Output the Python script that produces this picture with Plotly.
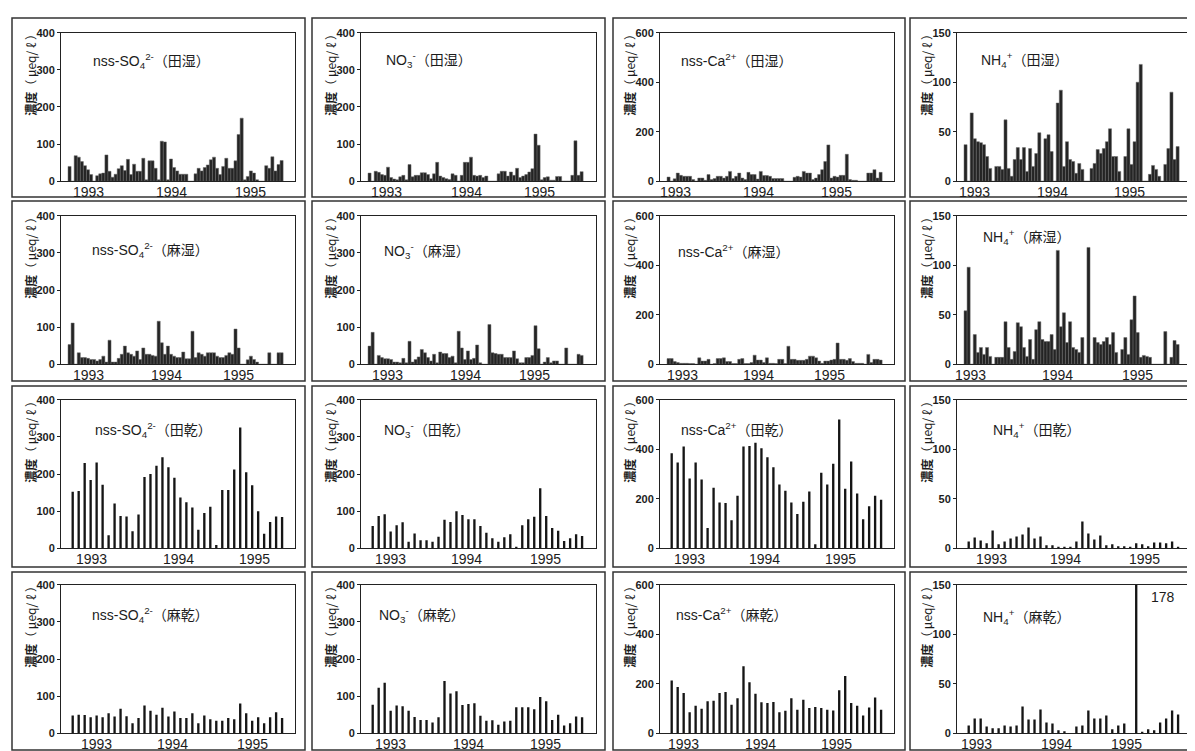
import plotly.graph_objects as go

W, H = 1195, 751

# ---------------- data ----------------
YEAR_LABELS = ["1993", "1994", "1995"]
WET_START = 1992.77      # left edge of first wet-deposition bin (decimal year)
WET_STEP = 0.0394        # ~2-week bins
DRY_START = 1992.83      # centre of first dry-deposition sample
DRY_STEP = 0.0767        # 4-weekly samples

# wet deposition, 田 site
so4_ta_wet = [40,0,69,65,53,42,31,18,0,15, 20,22,71,27,11,19,34,42,29,59,
              18,46,27,27,62,4,55,55,35,4, 108,106,4,60,37,28,19,19,19,0,
              0,20,35,28,37,44,58,65,35,18, 40,62,35,35,55,126,170,4,13,28,
              22,4,0,0,42,35,66,28,45,56]
no3_ta_wet = [22,0,27,24,18,16,38,10,6,4, 12,16,4,45,12,16,16,23,23,18,
              7,20,51,14,10,7,5,20,16,0, 16,51,51,65,16,14,16,10,14,0,
              0,0,20,27,27,14,25,16,35,10, 14,18,25,34,127,97,4,10,12,3,
              3,13,13,0,0,0,16,109,16,26]
ca_ta_wet = [17,0,10,33,24,20,20,20,7,0, 13,13,4,27,7,11,20,20,13,20,
             40,11,20,33,13,7,36,27,27,9, 40,23,23,20,11,11,11,11,0,0,
             0,16,20,17,40,33,33,7,13,27, 47,80,147,13,20,17,24,24,109,7,
             4,4,0,0,0,33,33,47,13,36]
nh4_ta_wet = [37,0,69,43,40,39,37,25,13,0, 15,15,12,62,13,5,22,34,22,34,
              10,33,15,28,49,0,43,47,30,0, 79,92,15,40,22,20,8,18,12,0,
              0,13,18,32,28,33,40,53,25,25, 10,0,25,53,17,40,100,118,0,0,
              7,16,12,5,0,17,33,90,22,35]

# wet deposition, 麻 site
so4_asa_wet = [53,111,0,31,18,18,16,13,13,9, 13,22,6,65,6,6,16,27,49,31,
               27,22,36,13,44,27,27,24,22,116, 58,27,49,27,22,18,18,33,15,15,
               89,18,31,27,22,31,31,31,22,18, 18,24,31,27,95,44,0,0,12,22,
               13,6,0,0,0,31,0,0,31,31]
no3_asa_wet = [49,86,0,24,18,15,15,13,6,6, 4,16,4,62,6,13,20,40,31,18,
               9,27,4,33,29,29,18,22,4,89, 44,13,36,13,16,52,4,0,0,107,
               31,29,27,27,18,18,18,36,15,4, 4,18,18,24,104,42,0,6,18,4,
               9,9,0,0,44,0,0,0,27,24]
ca_asa_wet = [23,23,11,7,4,4,4,3,3,0, 26,13,13,20,0,3,23,23,26,11,
              11,3,3,20,23,3,3,7,37,17, 17,7,26,4,4,3,20,20,3,73,
              20,20,16,16,16,20,33,33,26,13, 4,13,13,17,20,86,20,20,16,23,
              11,4,4,4,0,40,7,20,20,17]
nh4_asa_wet = [54,98,0,30,12,17,10,17,8,0, 7,7,7,43,17,5,13,42,38,17,
               8,25,5,35,43,25,23,23,30,15, 115,38,52,22,43,17,15,12,27,0,
               118,0,27,22,20,23,27,20,32,12, 0,15,27,10,45,69,32,7,9,8,
               7,0,0,0,0,33,0,7,24,20]

# dry deposition, 田 site
so4_ta_dry = [152,154,230,184,231,171,35,121,87,86, 46,91,192,200,222,245,218,190,137,124,
              110,50,95,112,9,157,157,212,325,205, 170,100,39,71,86,84]
no3_ta_dry = [60,87,92,45,62,70,18,40,22,22, 18,31,77,71,100,90,78,78,60,42,
              27,18,30,38,3,62,78,85,162,87, 55,47,20,27,38,33]
ca_ta_dry = [384,347,411,282,347,278,82,245,185,183, 113,212,411,413,426,404,368,327,258,232,
             185,139,188,229,16,305,258,342,520,241, 351,221,117,170,212,196]
nh4_ta_dry = [7,11,8,5,18,4,7,10,12,14, 21,10,12,3,3,1,1,1,7,27,
              15,9,13,3,4,2,2,1,5,4, 2,6,6,5,7,1]

# dry deposition, 麻 site
so4_asa_dry = [48,50,49,43,48,43,54,45,66,46, 27,41,75,61,50,69,45,59,41,41,
               54,27,48,38,34,34,41,38,80,54, 34,43,27,43,57,41]
no3_asa_dry = [77,123,136,61,75,73,61,44,36,36, 29,43,141,107,113,76,79,81,47,34,
               35,23,32,34,70,70,70,65,98,86, 36,50,21,27,45,43]
ca_asa_dry = [213,187,163,85,111,99,129,132,163,167, 115,142,271,206,160,125,122,126,85,91,
              142,95,136,102,106,102,95,92,174,231, 122,111,72,104,145,95]
nh4_asa_dry = [8,15,15,7,5,5,8,7,8,27, 14,14,24,11,10,3,2,0,7,8,
               23,15,15,18,4,8,10,0,178,1, 4,3,11,15,23,19]

SO4 = "nss-SO<sub>4</sub><sup>2-</sup>"
NO3 = "NO<sub>3</sub><sup>-</sup>"
CA = "nss-Ca<sup>2+</sup>"
NH4 = "NH<sub>4</sub><sup>+</sup>"
SITES = ["（田湿）", "（麻湿）", "（田乾）", "（麻乾）"]
YTITLE = "<b>濃度</b>（ μeq/ ℓ ）"

# rows: 田湿, 麻湿, 田乾, 麻乾 ; cols: SO4, NO3, Ca, NH4
DATA = [
    [so4_ta_wet, no3_ta_wet, ca_ta_wet, nh4_ta_wet],
    [so4_asa_wet, no3_asa_wet, ca_asa_wet, nh4_asa_wet],
    [so4_ta_dry, no3_ta_dry, ca_ta_dry, nh4_ta_dry],
    [so4_asa_dry, no3_asa_dry, ca_asa_dry, nh4_asa_dry],
]
IONS = [SO4, NO3, CA, NH4]
YMAX = [400, 400, 600, 150]
YDTICK = [100, 100, 200, 50]

# ---------------- layout geometry (pixels) ----------------
PLOT_X = [(53, 287), (353, 588), (652, 886), (949, 1183)]
PLOT_Y = [(19, 170), (205, 356), (392, 543), (580, 731)]
BOX_X = [(4, 297), (304, 597), (605, 897), (902, 1192)]
BOX_Y = [(4, 186), (190, 373), (378, 562), (567, 748)]
PPY = 78.0
X0 = 1992.68
# year label positions (pixels from plot left) for each panel
TICK_PX = [
    [(27, 110, 189), (25, 105, 178), (15, 98, 176), (18, 95, 172)],
    [(27, 105, 177), (26, 104, 173), (22, 98, 169), (14, 100, 180)],
    [(30, 117, 193), (29, 105, 184), (29, 104, 180), (35, 108, 187)],
    [(35, 111, 191), (29, 107, 184), (23, 100, 176), (20, 99, 169)],
]
# title offsets (dx from plot left, y centre absolute)
TITLE_POS = [
    [(30, 48), (23, 47), (19, 47), (22, 47)],
    [(29, 240), (21, 241), (16, 241), (24, 227)],
    [(32, 423), (21, 423), (19, 422), (34, 423)],
    [(29, 611), (16, 611), (14, 610), (24, 613)],
]

FONT = "Liberation Sans, Arial, Noto Sans CJK JP, sans-serif"
CJK = "Noto Sans CJK JP, Liberation Sans, sans-serif"
INK = "#1c1c1c"


def px(x):
    return x / W


def py(y):
    return 1 - y / H


fig = go.Figure()
layout = dict(
    width=W, height=H, margin=dict(l=0, r=0, t=0, b=0),
    paper_bgcolor="white", plot_bgcolor="white", showlegend=False,
    barmode="overlay",
)
annotations = []
shapes = []

n = 0
for r in range(4):
    wet = r < 2
    for c in range(4):
        n += 1
        vals = DATA[r][c]
        if wet:
            xs = [WET_START + (i + 0.5) * WET_STEP for i in range(len(vals))]
            width = WET_STEP
            marker = dict(color="#242424", line=dict(width=0.5, color="#6a6a6a"))
        else:
            xs = [DRY_START + i * DRY_STEP for i in range(len(vals))]
            width = 0.03
            marker = dict(color="#151515", line=dict(width=0))
        xa = "x" if n == 1 else f"x{n}"
        ya = "y" if n == 1 else f"y{n}"
        fig.add_trace(go.Bar(x=xs, y=vals, width=width, marker=marker,
                             xaxis=xa, yaxis=ya, hoverinfo="x+y"))
        xl, xr = PLOT_X[c]
        yt, yb = PLOT_Y[r]
        xkey = "xaxis" if n == 1 else f"xaxis{n}"
        ykey = "yaxis" if n == 1 else f"yaxis{n}"
        layout[xkey] = dict(
            domain=[px(xl), px(xr)], anchor=ya,
            range=[X0, X0 + (xr - xl) / PPY],
            showticklabels=False, ticks="",
            showline=True, linecolor="#222", linewidth=1, mirror=True,
            showgrid=False, zeroline=False, fixedrange=True,
        )
        layout[ykey] = dict(
            domain=[py(yb), py(yt)], anchor=xa,
            range=[0, YMAX[c]], dtick=YDTICK[c], tick0=0,
            ticks="outside", ticklen=3, tickcolor="#222",
            tickfont=dict(family=FONT, size=11, color=INK, weight="bold"),
            showline=True, linecolor="#222", linewidth=1, mirror=True,
            showgrid=False, zeroline=False, fixedrange=True,
        )
        # year labels under the axis
        for lab, p in zip(YEAR_LABELS, TICK_PX[r][c]):
            annotations.append(dict(
                x=X0 + p / PPY, y=py(yb + 11), xref=xa, yref="paper",
                xanchor="center", yanchor="middle", showarrow=False,
                text=lab, font=dict(family=FONT, size=14, color=INK),
            ))
        # panel title
        dx, ty = TITLE_POS[r][c]
        annotations.append(dict(
            x=px(xl + dx), y=py(ty), xref="paper", yref="paper",
            xanchor="left", yanchor="middle", showarrow=False,
            text=IONS[c] + SITES[r],
            font=dict(family=FONT, size=14, color=INK),
        ))
        # y-axis title
        annotations.append(dict(
            x=px(xl - 30), y=py(yt - 7), xref="paper", yref="paper",
            xanchor="center", yanchor="top", showarrow=False, textangle=-90,
            text=YTITLE, font=dict(family=CJK, size=12, color=INK),
        ))
        # frame around panel
        bx0, bx1 = BOX_X[c]
        by0, by1 = BOX_Y[r]
        shapes.append(dict(type="rect", xref="paper", yref="paper",
                           x0=px(bx0), x1=px(bx1), y0=py(by1), y1=py(by0),
                           line=dict(color="#333", width=1.5), fillcolor="rgba(0,0,0,0)"))

# clipped value label for the off-scale NH4 dry bar
annotations.append(dict(
    x=px(1155), y=py(592), xref="paper", yref="paper",
    xanchor="center", yanchor="middle", showarrow=False,
    text=str(max(nh4_asa_dry)), font=dict(family=FONT, size=14, color=INK),
))

layout["annotations"] = annotations
layout["shapes"] = shapes
fig.update_layout(**layout)
fig.write_html("out.html")
